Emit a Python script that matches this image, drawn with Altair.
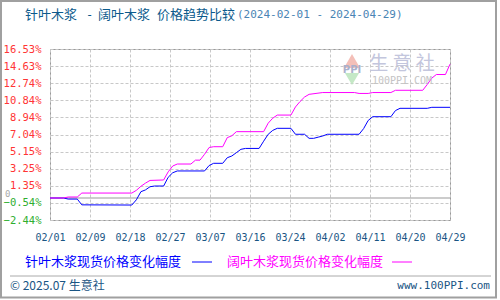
import altair as alt
import pandas as pd

# ---------------- data ----------------
x_labels = ["02/01", "02/09", "02/18", "02/27", "03/07", "03/16",
            "03/24", "04/02", "04/11", "04/20", "04/29"]
y_ticks = [-2.44, -0.54, 1.35, 3.25, 5.15, 7.04, 8.94, 10.84, 12.74, 14.63, 16.53]

# 针叶木浆 (softwood) – day index from 2024-02-01, % change
soft_days = [0, 3, 4, 6, 7, 18, 19, 20, 21, 22, 23, 25, 26, 27, 28, 34, 35, 36,
             38, 39, 40, 41, 42, 43, 46, 47, 48, 49, 50, 53, 54, 56, 57, 58, 59,
             60, 61, 68, 69, 70, 71, 75, 76, 77, 83, 84, 88]
soft_vals = [0.0, 0.0, -0.12, -0.12, -0.76, -0.78, -0.2, 0.7, 0.9, 1.25, 1.33,
             1.33, 2.3, 2.8, 3.0, 3.0, 3.6, 3.85, 3.85, 4.47, 4.66, 5.03, 5.4,
             5.5, 5.5, 6.3, 7.07, 7.5, 7.73, 7.73, 7.07, 7.07, 6.62, 6.62, 6.75,
             6.88, 7.07, 7.07, 7.7, 8.6, 9.02, 9.02, 9.7, 9.95, 9.95, 10.06, 10.06]

# 阔叶木浆 (hardwood)
hard_days = [0, 3, 4, 6, 7, 18, 19, 20, 21, 22, 25, 26, 27, 28, 31, 32, 33, 34,
             35, 36, 38, 39, 40, 41, 47, 48, 49, 50, 53, 54, 55, 56, 57, 60, 67,
             68, 70, 71, 75, 76, 82, 83, 84, 85, 87, 88]
hard_vals = [0.0, 0.0, 0.11, 0.11, 0.55, 0.55, 0.85, 1.3, 1.65, 1.95, 2.0, 2.9,
             3.55, 3.77, 3.77, 4.2, 4.2, 4.85, 5.6, 5.69, 5.69, 6.7, 6.9, 7.36,
             7.36, 8.3, 8.85, 9.2, 9.2, 10.1, 10.7, 11.2, 11.5, 11.7, 11.7, 11.6,
             11.6, 11.7, 11.7, 11.95, 11.95, 12.6, 13.3, 13.7, 13.7, 14.85]

soft = pd.DataFrame({"day": soft_days, "pct": soft_vals})
hard = pd.DataFrame({"day": hard_days, "pct": hard_vals})
one = pd.DataFrame({"k": [0]})

# ---------------- scales / axes ----------------
n_days = 88
xscale = alt.Scale(domain=[0, n_days], nice=False, zero=False)
yscale = alt.Scale(domain=[y_ticks[0], y_ticks[-1]], nice=False, zero=False)
step = n_days / (len(x_labels) - 1)
x_tick_vals = [round(i * step, 4) for i in range(len(x_labels))]
label_expr = "[" + ",".join(f"'{l}'" for l in x_labels) + f"][round(datum.value / {step})]"

GRID = "#c8c8c8"
BORDER = "#999999"
DARKBLUE = "#1a5584"

xaxis = alt.Axis(values=x_tick_vals, tickCount=len(x_tick_vals), labelExpr=label_expr,
                 grid=True, gridColor=GRID, gridDash=[3, 2], gridWidth=1, ticks=False,
                 domain=False, labelColor=DARKBLUE, labelFont="DejaVu Sans Mono",
                 labelFontSize=10, labelPadding=12, labelOverlap=False,
                 labelFlush=False, labelBound=False, title=None)
yaxis = alt.Axis(values=y_ticks, tickCount=len(y_ticks),
                 labelExpr="format(datum.value, '.2f') + '%'",
                 grid=True, gridColor=GRID, gridDash=[3, 2], gridWidth=1,
                 ticks=False, domain=False,
                 labelColor={"condition": {"test": "datum.value < 0", "value": "#2fae2f"},
                             "value": "#ff3535"},
                 labelFont="DejaVu Sans Mono", labelFontSize=10.5, labelPadding=9,
                 labelOverlap=False, labelFlush=False, labelBound=False, title=None)

# ---------------- layers ----------------
zero = alt.Chart(one).mark_rule(color=BORDER, strokeWidth=1).encode(
    y=alt.datum(0, scale=yscale, type="quantitative"))

blue = alt.Chart(soft).mark_line(color="#0000ff", strokeWidth=1).encode(
    x=alt.X("day:Q", scale=xscale, axis=xaxis),
    y=alt.Y("pct:Q", scale=yscale, axis=yaxis))
magenta = alt.Chart(hard).mark_line(color="#ff00ff", strokeWidth=1).encode(
    x=alt.X("day:Q", scale=xscale),
    y=alt.Y("pct:Q", scale=yscale))

zero_lbl = alt.Chart(one).mark_text(text="0", color="#aaaaaa", fontSize=9,
                                    font="DejaVu Sans Mono", align="left", dy=-4).encode(
    x=alt.value(-45), y=alt.datum(0, scale=yscale, type="quantitative"))


def txt(s, x, y, color, size, font="Noto Sans CJK SC", align="left", **kw):
    return alt.Chart(one).mark_text(text=s, color=color, fontSize=size, font=font,
                                    align=align, baseline="middle", **kw).encode(
        x=alt.value(x), y=alt.value(y))


def seg(x1, x2, y, color, w=1):
    return alt.Chart(one).mark_rule(color=color, strokeWidth=w).encode(
        x=alt.value(x1), x2=alt.value(x2), y=alt.value(y))


TCOL = "#0b5a8c"
title_a = txt("针叶木浆", -25, -34, TCOL, 13)
title_b = txt("-", 36, -34, TCOL, 12, font="DejaVu Sans Mono")
title_c = txt("阔叶木浆", 48, -34, TCOL, 13)
title_d = txt("价格趋势比较", 107, -34, TCOL, 13)
title_e = txt("(2024-02-01 - 2024-04-29)", 187, -34, "#4a84b4", 11, font="DejaVu Sans Mono")

# watermark
wm_up = alt.Chart(one).mark_point(shape="triangle-up", filled=True, color="#f3b8b0",
                                  size=260, opacity=0.9).encode(
    x=alt.value(302), y=alt.value(12))
wm_dn = alt.Chart(one).mark_point(shape="triangle-down", filled=True, color="#bfe6c0",
                                  size=200, opacity=0.9).encode(
    x=alt.value(302), y=alt.value(30))
wm_ppi = txt("PPI", 302, 21, "#aab0cc", 10, font="DejaVu Sans", align="center", fontWeight="bold")
wm_cn = txt("生 意 社", 352, 15, "#c3c6dd", 19, align="center")
wm_en = txt("100PPI.COM", 352, 32, "#c4c4c4", 10, font="DejaVu Sans Mono", align="center")

leg1 = txt("针叶木浆现货价格变化幅度", -25, 213, "#0000ff", 13)
leg1l = seg(142, 162, 213, "#0000ff")
leg2 = txt("阔叶木浆现货价格变化幅度", 177, 213, "#ff00ff", 13)
leg2l = seg(342, 362, 213, "#ff00ff")

sep = seg(-40, 441, 227, "#aaaaaa")
foot1 = txt("© 2025.07 生意社", -40, 237, DARKBLUE, 12)
foot2 = txt("www.100PPI.com", 440, 237, DARKBLUE, 11, font="DejaVu Sans Mono", align="right")

frame = alt.Chart(one).mark_rect(fillOpacity=0, stroke="#a0a0a0", strokeWidth=2).encode(
    x=alt.value(-49), x2=alt.value(446), y=alt.value(-48), y2=alt.value(248.5))

chart = alt.layer(
    zero, blue, magenta, zero_lbl,
    title_a, title_b, title_c, title_d, title_e,
    wm_up, wm_dn, wm_ppi, wm_cn, wm_en,
    leg1, leg1l, leg2, leg2l, sep, foot1, foot2, frame
).properties(
    width=400, height=171,
    padding={"left": 50, "top": 49, "right": 50, "bottom": 80},
    autosize=alt.AutoSizeParams(type="none"),
    background="white",
).configure_view(stroke=BORDER, strokeWidth=1)

chart.save("out.html", embed_options={"renderer": "svg", "actions": False})
